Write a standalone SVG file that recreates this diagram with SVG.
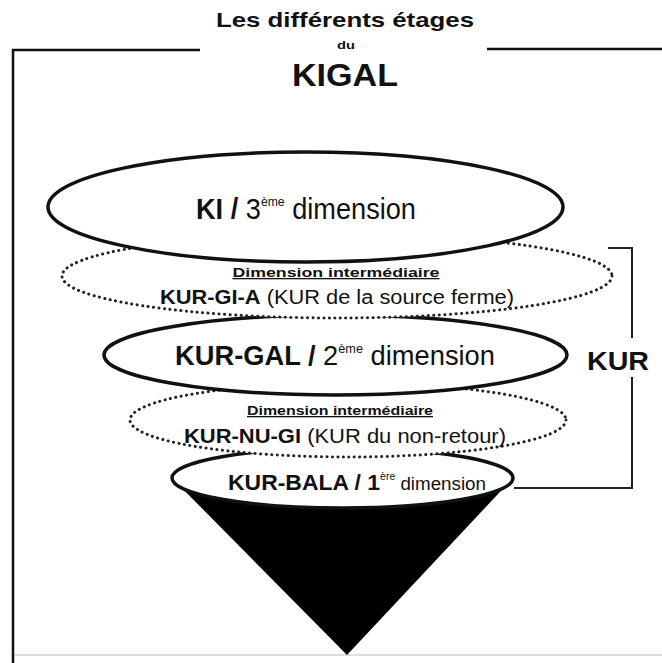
<svg xmlns="http://www.w3.org/2000/svg" width="662" height="663" viewBox="0 0 662 663">
<style>
.t{font-family:"Liberation Sans",Arial,sans-serif;fill:#111}
.b{font-weight:bold}
.sol{fill:#fff;stroke:#111;stroke-width:3.5}
.dot{fill:#fff;stroke:#222;stroke-width:3;stroke-dasharray:0.1 5.4;stroke-linecap:round}
.ln{fill:none;stroke:#111;stroke-width:2.5}
.u{text-decoration:underline}
</style>
<rect width="662" height="663" fill="#fff"/>
<g id="frame">
<path class="ln" d="M200 50 H13 V663"/>
<path class="ln" d="M487 49 H662"/>
<path d="M15 655 H662" stroke="#ddd" stroke-width="2"/>
</g>
<g id="title">
<text class="t b" x="345" y="27" font-size="21" text-anchor="middle" textLength="258" lengthAdjust="spacingAndGlyphs">Les différents étages</text>
<text class="t b" x="346" y="49" font-size="10" text-anchor="middle" textLength="18" lengthAdjust="spacingAndGlyphs">du</text>
<text class="t b" x="345" y="86" font-size="31" text-anchor="middle" textLength="106" lengthAdjust="spacingAndGlyphs">KIGAL</text>
</g>
<g id="connectors">
<path fill="none" stroke="#222" stroke-width="2" d="M608 248 H632 V338 M632 377 V488 H514"/>
</g>
<g id="kur-bala">
<path d="M172 478 L347 655 L513 478 Z" fill="#000"/>
<ellipse class="sol" cx="342.5" cy="478" rx="170.5" ry="30"/>
<text class="t" x="357" y="490" text-anchor="middle" textLength="258" lengthAdjust="spacingAndGlyphs"><tspan class="b" font-size="22">KUR-BALA / 1</tspan><tspan font-size="10" dy="-10">ère</tspan><tspan font-size="18" dy="10"> dimension</tspan></text>
</g>
<g id="kur-nu-gi">
<ellipse class="dot" cx="348" cy="420" rx="218" ry="37"/>
<text class="t b u" x="340" y="415" font-size="13" text-anchor="middle" textLength="186" lengthAdjust="spacingAndGlyphs">Dimension intermédiaire</text>
<text class="t" x="345" y="443" font-size="20" text-anchor="middle" textLength="322" lengthAdjust="spacingAndGlyphs"><tspan class="b">KUR-NU-GI</tspan> (KUR du non-retour)</text>
</g>
<g id="kur-gal">
<ellipse class="sol" cx="335.5" cy="355" rx="231.5" ry="40"/>
<text class="t" x="335" y="365" font-size="28" text-anchor="middle" textLength="320" lengthAdjust="spacingAndGlyphs"><tspan class="b">KUR-GAL / </tspan>2<tspan font-size="13" dy="-12">ème</tspan><tspan dy="12"> dimension</tspan></text>
</g>
<g id="kur-gi-a">
<ellipse class="dot" cx="337" cy="276" rx="275" ry="42"/>
<text class="t b u" x="336" y="277" font-size="13" text-anchor="middle" textLength="207" lengthAdjust="spacingAndGlyphs">Dimension intermédiaire</text>
<text class="t" x="337" y="304" font-size="20" text-anchor="middle" textLength="354" lengthAdjust="spacingAndGlyphs"><tspan class="b">KUR-GI-A</tspan> (KUR de la source ferme)</text>
</g>
<g id="ki">
<ellipse class="sol" cx="305.5" cy="207" rx="257.5" ry="55"/>
<text class="t" x="306" y="219" font-size="29" text-anchor="middle" textLength="220" lengthAdjust="spacingAndGlyphs"><tspan class="b">KI / </tspan>3<tspan font-size="13" dy="-13">ème</tspan><tspan dy="13"> dimension</tspan></text>
</g>
<g id="kur">
<text class="t b" x="587" y="370" font-size="26" textLength="62" lengthAdjust="spacingAndGlyphs">KUR</text>
</g>
</svg>
